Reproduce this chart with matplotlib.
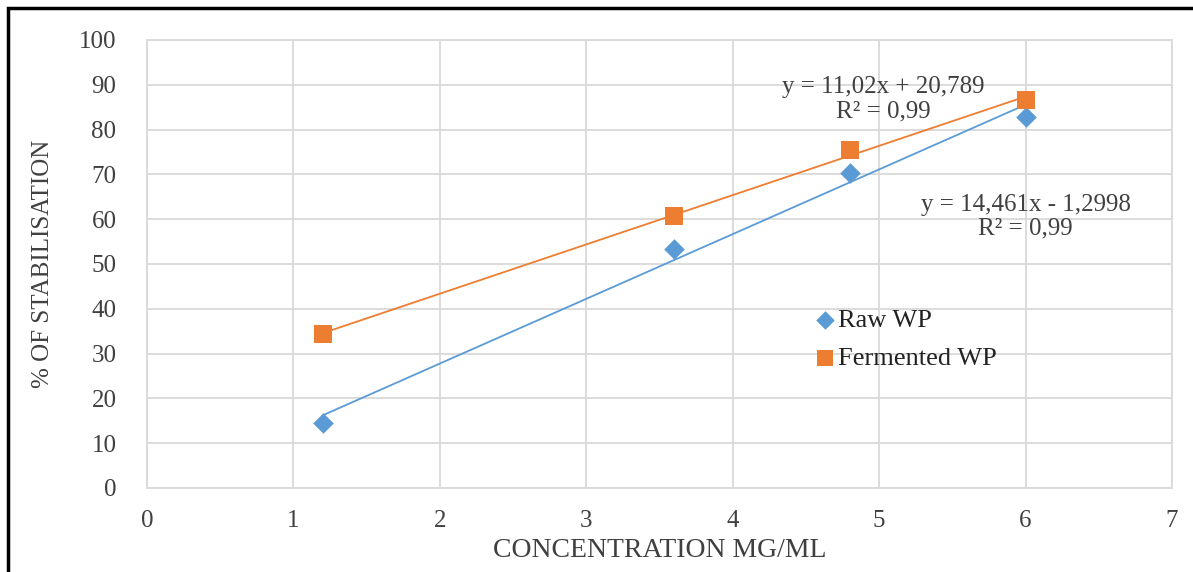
import numpy as np
import matplotlib
matplotlib.use("Agg")
import matplotlib.pyplot as plt
from matplotlib.patches import Rectangle

plt.rcParams['font.family'] = ['Liberation Serif', 'DejaVu Serif']

conc = [1.2, 3.6, 4.8, 6.0]
raw_wp = [14.5, 53.3, 70.3, 82.8]
fermented_wp = [34.4, 60.7, 75.4, 86.6]
eq_raw = ["y = 14,461x - 1,2998", "R² = 0,99"]
eq_ferm = ["y = 11,02x + 20,789", "R² = 0,99"]

blue = '#5B9BD5'
orange = '#ED7D31'
grid = '#D9D9D9'
tc = '#404040'

fig = plt.figure(figsize=(11.93, 5.72), dpi=100)
ax = fig.add_axes([147/1193, 1-488/572, (1172-147)/1193, (488-40)/572])

# trendlines
xs = np.array(conc)
for ys, c in ((raw_wp, blue), (fermented_wp, orange)):
    m, b = np.polyfit(xs, ys, 1)
    xl = np.array([xs.min(), xs.max()])
    ax.plot(xl, m*xl + b, color=c, lw=1.3, zorder=2)

ax.scatter(conc, raw_wp, marker='D', s=110, color=blue, label='Raw WP', zorder=3, linewidths=0)
ax.scatter(conc, fermented_wp, marker='s', s=150, color=orange, label='Fermented WP', zorder=3, linewidths=0)

ax.set_xlim(0, 7)
ax.set_ylim(0, 100)
ax.set_xticks(range(0, 8))
ax.set_yticks(range(0, 101, 10))
ax.grid(True, color=grid, lw=1.3)
ax.set_axisbelow(True)
for s in ax.spines.values():
    s.set_color(grid)
    s.set_linewidth(1.3)
ax.tick_params(length=0, labelsize=18, labelcolor=tc)
ax.tick_params(axis='y', pad=22)
ax.tick_params(axis='x', pad=16)

ax.set_xlabel('CONCENTRATION MG/ML', fontsize=20, color=tc, labelpad=4)
ax.set_ylabel('% OF STABILISATION', fontsize=18, color=tc, labelpad=18)

ax.text(5.03, 86.8, eq_ferm[0] + "\n" + eq_ferm[1], ha='center', va='center',
        fontsize=18, color=tc, linespacing=1.1)
ax.text(6.0, 60.5, eq_raw[0] + "\n" + eq_raw[1], ha='center', va='center',
        fontsize=18, color=tc, linespacing=1.1)

leg = ax.legend(loc='upper left', bbox_to_anchor=(4.45/7, 0.43), frameon=False,
                fontsize=19, handletextpad=0.0, labelspacing=0.55, borderpad=0,
                markerscale=0.9, handlelength=1.0)
for t in leg.get_texts():
    t.set_color('#222222')

fig.patches.append(Rectangle((8/1193, -0.1), 2.0, 1-8/572+0.1, transform=fig.transFigure,
                             fill=False, edgecolor='black', lw=2.5))

fig.savefig('out.png', dpi=100)
